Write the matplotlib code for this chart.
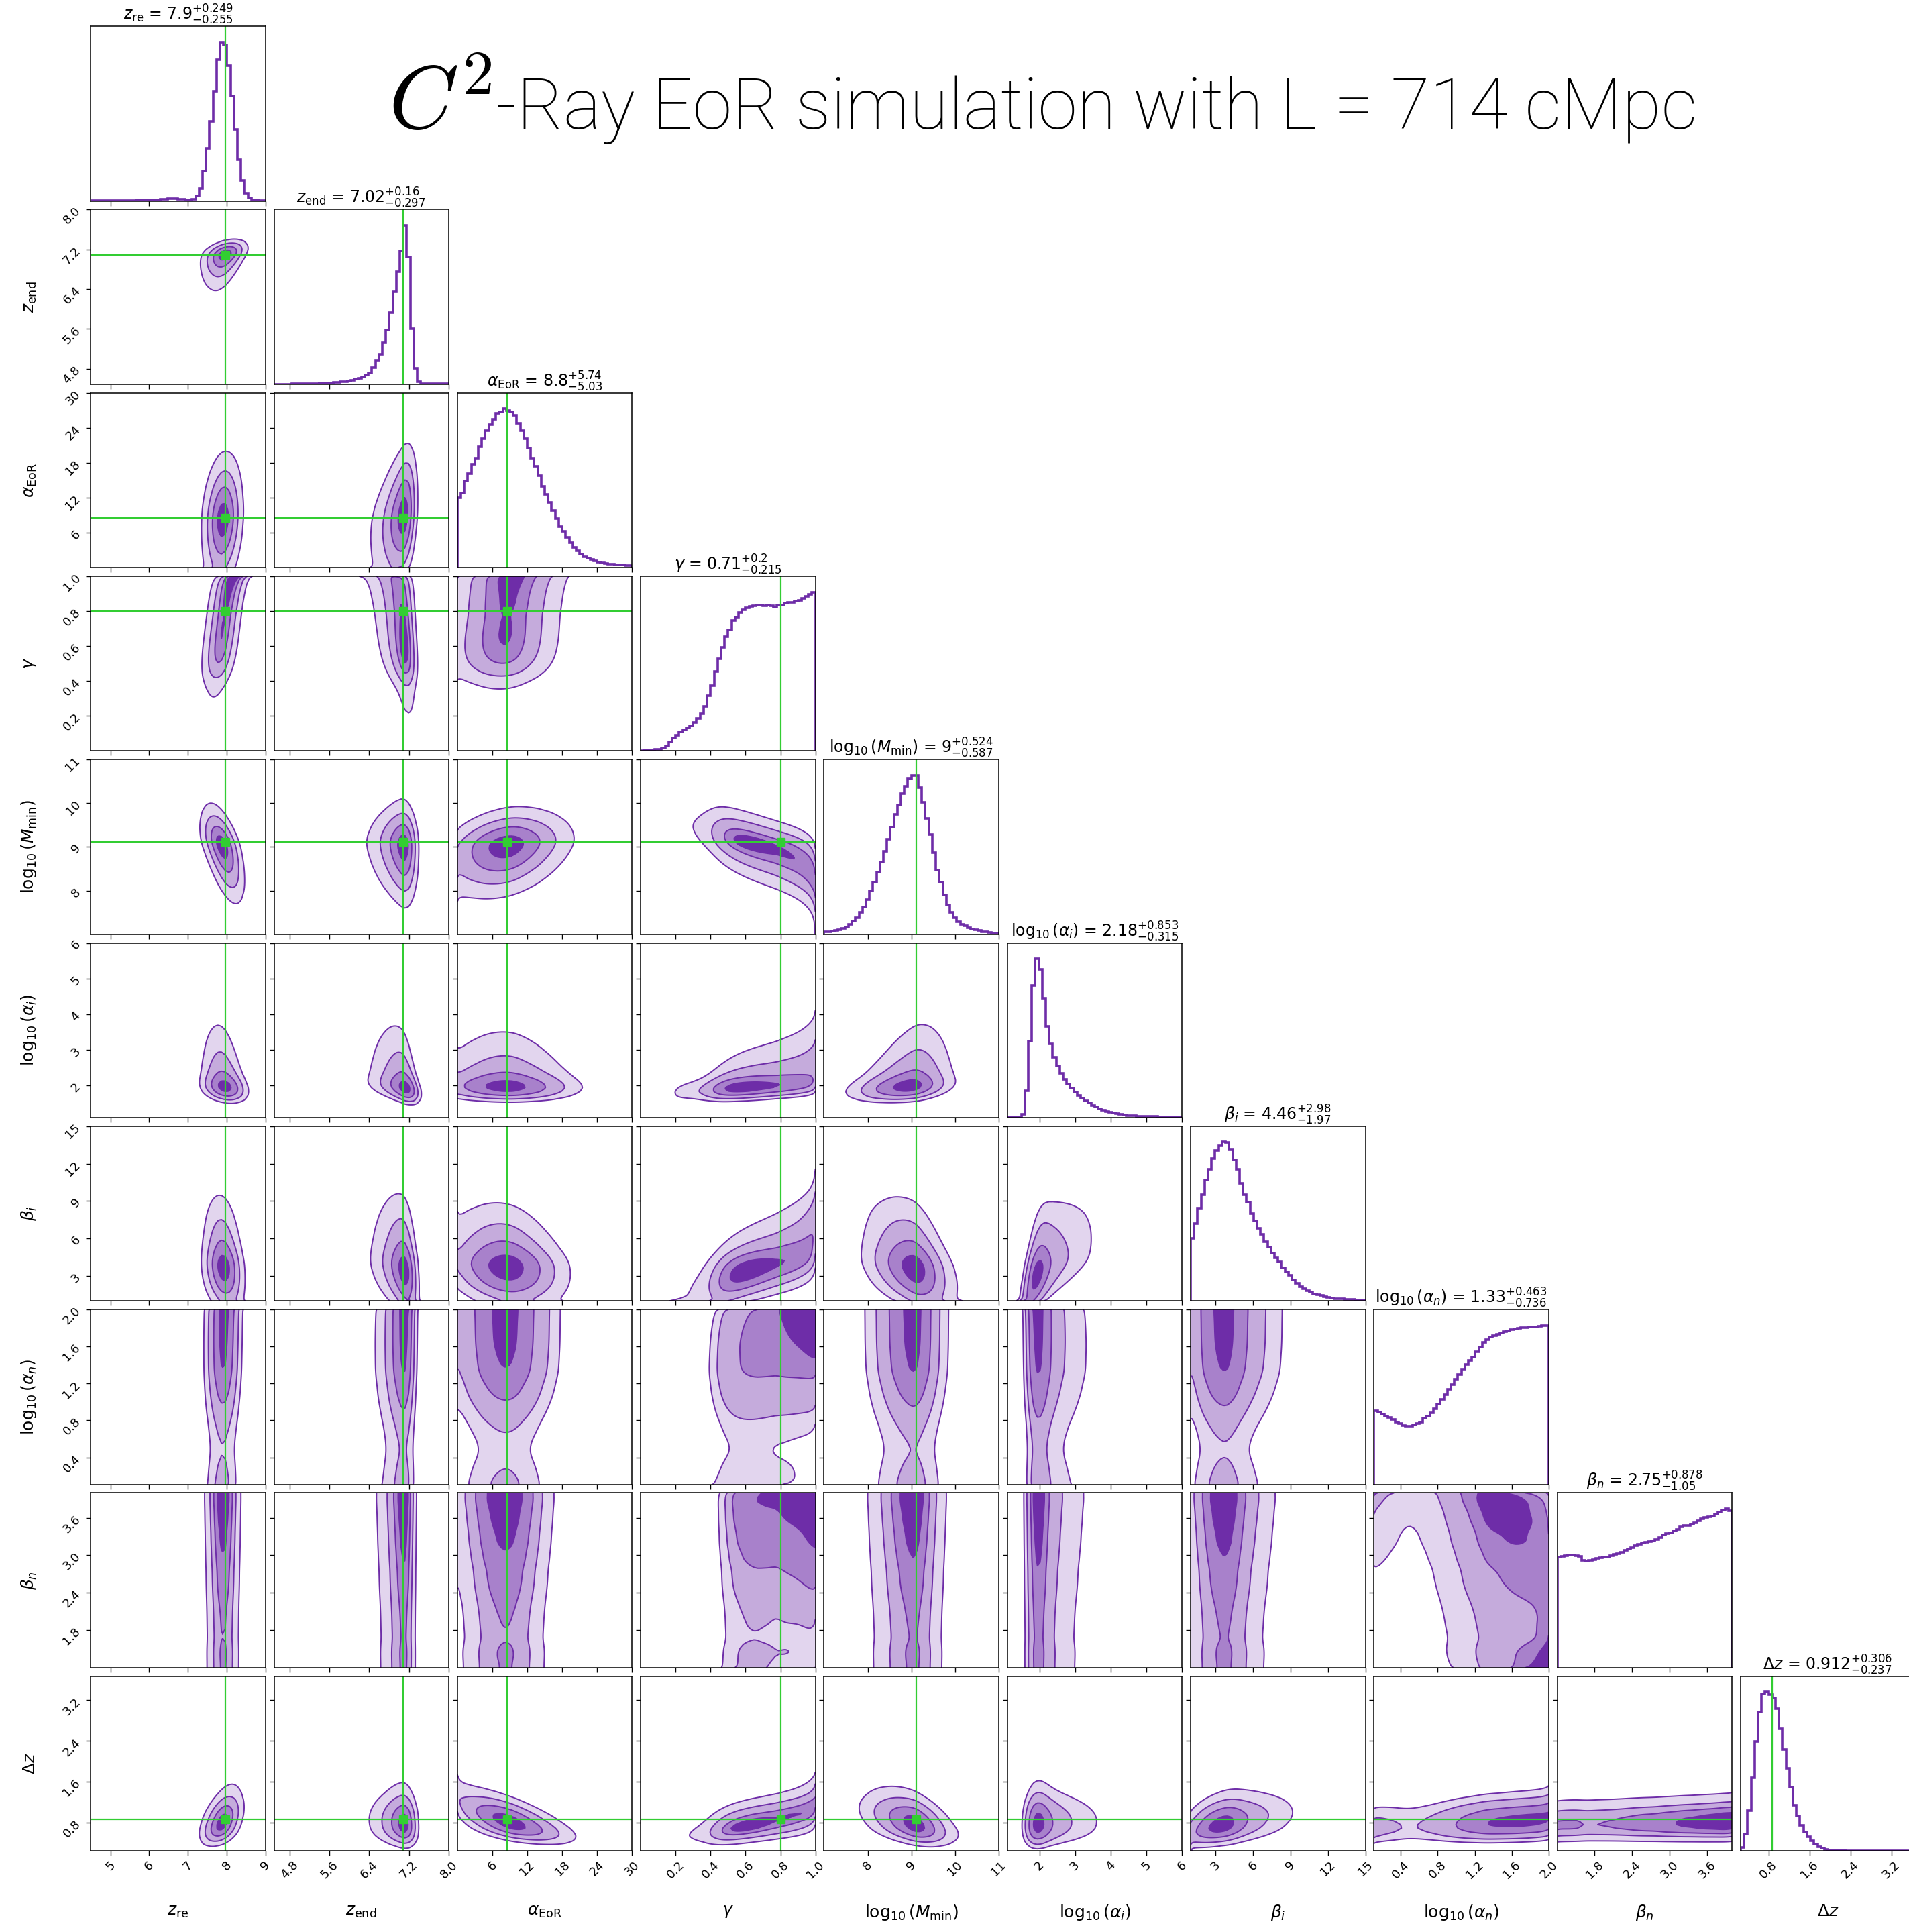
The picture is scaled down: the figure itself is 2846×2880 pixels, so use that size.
import numpy as np
import matplotlib
matplotlib.use("Agg")
import matplotlib.pyplot as plt
from matplotlib.colors import to_rgb
from statistics import NormalDist

# ------------------------------------------------------------------ data
labels = [r"$z_{\rm re}$", r"$z_{\rm end}$", r"$\alpha_{\rm EoR}$", r"$\gamma$",
          r"$\log_{10}(M_{\rm min})$", r"$\log_{10}(\alpha_i)$", r"$\beta_i$",
          r"$\log_{10}(\alpha_n)$", r"$\beta_n$", r"$\Delta z$"]

ranges = [(4.49, 9.0), (4.49, 8.0), (0.0, 30.0), (0.0, 1.0), (7.0, 11.0),
          (1.1, 6.0), (1.0, 15.0), (0.11, 2.0), (1.2, 4.0), (0.25, 3.67)]

tick_values = [[5, 6, 7, 8, 9], [4.8, 5.6, 6.4, 7.2, 8.0], [6, 12, 18, 24, 30],
               [0.2, 0.4, 0.6, 0.8, 1.0], [8, 9, 10, 11], [2, 3, 4, 5, 6],
               [3, 6, 9, 12, 15], [0.4, 0.8, 1.2, 1.6, 2.0], [1.8, 2.4, 3.0, 3.6],
               [0.8, 1.6, 2.4, 3.2]]
tick_text = [["5", "6", "7", "8", "9"], ["4.8", "5.6", "6.4", "7.2", "8.0"],
             ["6", "12", "18", "24", "30"], ["0.2", "0.4", "0.6", "0.8", "1.0"],
             ["8", "9", "10", "11"], ["2", "3", "4", "5", "6"],
             ["3", "6", "9", "12", "15"], ["0.4", "0.8", "1.2", "1.6", "2.0"],
             ["1.8", "2.4", "3.0", "3.6"], ["0.8", "1.6", "2.4", "3.2"]]

medians = ["7.9", "7.02", "8.8", "0.71", "9", "2.18", "4.46", "1.33", "2.75", "0.912"]
err_plus = ["0.249", "0.16", "5.74", "0.2", "0.524", "0.853", "2.98", "0.463", "0.878", "0.306"]
err_minus = ["0.255", "0.297", "5.03", "0.215", "0.587", "0.315", "1.97", "0.736", "1.05", "0.237"]

truths = [7.97, 7.09, 8.5, 0.8, 9.11, None, None, None, None, 0.87]

h_zre = [0.004, 0.004, 0.004, 0.004, 0.004, 0.004, 0.004, 0.004, 0.004, 0.004,
         0.004, 0.004, 0.004, 0.005, 0.005, 0.005, 0.006, 0.006, 0.007, 0.008,
         0.009, 0.011, 0.013, 0.014, 0.014, 0.012, 0.009, 0.008, 0.008, 0.012,
         0.03, 0.08, 0.19, 0.33, 0.50, 0.69, 0.89, 1.00, 0.98, 0.85,
         0.66, 0.45, 0.26, 0.13, 0.05, 0.02, 0.008, 0.005, 0.003, 0.003]
h_zend = [0.001, 0.001, 0.001, 0.001, 0.001, 0.0015, 0.002, 0.002, 0.0025, 0.003,
          0.0035, 0.004, 0.005, 0.006, 0.007, 0.008, 0.009, 0.011, 0.013, 0.015,
          0.018, 0.021, 0.026, 0.031, 0.037, 0.045, 0.057, 0.073, 0.105, 0.15,
          0.19, 0.26, 0.34, 0.45, 0.58, 0.71, 0.84, 1.00, 0.80, 0.35,
          0.10, 0.016, 0.005, 0.002, 0.002, 0.002, 0.002, 0.002, 0.002, 0.002]
h_aeor = [0.44, 0.47, 0.545, 0.59, 0.65, 0.69, 0.76, 0.81, 0.86, 0.90,
          0.935, 0.97, 0.98, 1.0, 0.99, 0.98, 0.96, 0.91, 0.86, 0.81,
          0.75, 0.69, 0.64, 0.58, 0.51, 0.46, 0.41, 0.36, 0.31, 0.26,
          0.23, 0.19, 0.156, 0.128, 0.106, 0.086, 0.07, 0.059, 0.05, 0.042,
          0.036, 0.031, 0.026, 0.023, 0.02, 0.019, 0.017, 0.016, 0.014, 0.012]
h_gamma = [0.003, 0.004, 0.005, 0.007, 0.009, 0.012, 0.018, 0.03, 0.055, 0.08,
           0.10, 0.118, 0.133, 0.147, 0.16, 0.18, 0.205, 0.235, 0.28, 0.35,
           0.41, 0.50, 0.58, 0.65, 0.72, 0.76, 0.82, 0.84, 0.87, 0.89,
           0.90, 0.91, 0.915, 0.92, 0.917, 0.912, 0.92, 0.912, 0.905, 0.917,
           0.92, 0.93, 0.933, 0.936, 0.944, 0.948, 0.96, 0.972, 0.986, 1.0]
h_mmin = [0.014, 0.016, 0.019, 0.022, 0.028, 0.036, 0.047, 0.063, 0.083, 0.104,
          0.138, 0.17, 0.217, 0.272, 0.33, 0.39, 0.453, 0.524, 0.597, 0.676,
          0.755, 0.814, 0.885, 0.932, 0.98, 1.0, 1.0, 0.925, 0.83, 0.728,
          0.626, 0.516, 0.406, 0.327, 0.248, 0.186, 0.138, 0.104, 0.079, 0.063,
          0.052, 0.041, 0.033, 0.027, 0.022, 0.017, 0.014, 0.011, 0.009, 0.007]
h_ai = [0.004, 0.004, 0.005, 0.006, 0.02, 0.17, 0.48, 0.83, 1.0, 0.935,
        0.75, 0.575, 0.465, 0.38, 0.325, 0.28, 0.24, 0.21, 0.185, 0.16,
        0.14, 0.122, 0.107, 0.091, 0.078, 0.067, 0.056, 0.047, 0.039, 0.033,
        0.028, 0.024, 0.02, 0.017, 0.014, 0.012, 0.011, 0.010, 0.009, 0.008,
        0.008, 0.007, 0.007, 0.006, 0.006, 0.005, 0.005, 0.005, 0.004, 0.004]
h_bi = [0.395, 0.486, 0.583, 0.67, 0.76, 0.83, 0.896, 0.946, 0.975, 1.0,
        0.998, 0.95, 0.89, 0.83, 0.74, 0.67, 0.62, 0.55, 0.505, 0.458,
        0.418, 0.371, 0.34, 0.30, 0.27, 0.246, 0.207, 0.183, 0.16, 0.133,
        0.113, 0.092, 0.077, 0.066, 0.055, 0.045, 0.039, 0.033, 0.028, 0.024,
        0.019, 0.016, 0.014, 0.013, 0.011, 0.009, 0.008, 0.006, 0.006, 0.005]
h_an = [0.464, 0.456, 0.44, 0.43, 0.42, 0.41, 0.393, 0.382, 0.37, 0.366,
        0.366, 0.373, 0.382, 0.393, 0.417, 0.43, 0.451, 0.476, 0.503, 0.535,
        0.566, 0.597, 0.629, 0.66, 0.692, 0.723, 0.755, 0.778, 0.802, 0.833,
        0.865, 0.892, 0.912, 0.928, 0.936, 0.943, 0.951, 0.959, 0.967, 0.975,
        0.98, 0.983, 0.986, 0.987, 0.99, 0.99, 0.992, 0.994, 0.998, 1.0]
h_bn = [0.698, 0.70, 0.705, 0.71, 0.708, 0.704, 0.70, 0.677, 0.673, 0.677,
        0.681, 0.687, 0.691, 0.695, 0.698, 0.705, 0.712, 0.719, 0.726, 0.738,
        0.748, 0.757, 0.769, 0.776, 0.783, 0.789, 0.793, 0.797, 0.804, 0.818,
        0.836, 0.842, 0.849, 0.86, 0.87, 0.888, 0.893, 0.896, 0.903, 0.913,
        0.924, 0.936, 0.946, 0.95, 0.956, 0.967, 0.98, 0.994, 1.0, 0.988]
h_dz = [0.02, 0.106, 0.254, 0.46, 0.69, 0.875, 0.987, 1.0, 0.985, 0.965,
        0.895, 0.77, 0.64, 0.52, 0.40, 0.29, 0.22, 0.16, 0.12, 0.09,
        0.063, 0.042, 0.028, 0.018, 0.011, 0.007, 0.005, 0.004, 0.003, 0.003,
        0.002, 0.002, 0.002, 0.002, 0.002, 0.002, 0.002, 0.002, 0.002, 0.002,
        0.002, 0.002, 0.002, 0.002, 0.002, 0.002, 0.002, 0.002, 0.002, 0.002]
hists = [h_zre, h_zend, h_aeor, h_gamma, h_mmin, h_ai, h_bi, h_an, h_bn, h_dz]

corr = {
    (1, 0): 0.45,
    (2, 0): 0.15, (2, 1): 0.30,
    (3, 0): 0.50, (3, 1): -0.35, (3, 2): 0.10,
    (4, 0): -0.60, (4, 1): -0.10, (4, 2): 0.25, (4, 3): -0.60,
    (5, 0): -0.30, (5, 1): -0.45, (5, 2): -0.05, (5, 3): 0.40, (5, 4): 0.35,
    (6, 0): -0.20, (6, 1): -0.30, (6, 2): -0.15, (6, 3): 0.50, (6, 4): -0.35, (6, 5): 0.60,
    (7, 0): 0.05, (7, 1): 0.05, (7, 2): 0.0, (7, 3): 0.15, (7, 4): 0.0, (7, 5): -0.05, (7, 6): 0.0,
    (8, 0): 0.0, (8, 1): 0.0, (8, 2): 0.0, (8, 3): 0.05, (8, 4): 0.0, (8, 5): 0.0, (8, 6): 0.0, (8, 7): -0.10,
    (9, 0): 0.45, (9, 1): -0.10, (9, 2): -0.60, (9, 3): 0.50, (9, 4): -0.45, (9, 5): 0.05,
    (9, 6): 0.35, (9, 7): 0.15, (9, 8): 0.05,
}

mass_levels = [0.118, 0.393, 0.675, 0.865]

# ------------------------------------------------------------------ style
PURPLE = "#6E2DA8"
GREEN = "#32CD32"
W, H = 2846, 2880
LEFT, TOP, STEP, SIZE = 135.2, 39.0, 273.3, 260.5
TICK_FS, TITLE_FS, LABEL_FS = 13, 17, 18
rgb = np.array(to_rgb(PURPLE))
fill_colors = [tuple(a * rgb + (1 - a)) for a in (0.2, 0.4, 0.6, 1.0)]

plt.rcParams["font.family"] = ["DejaVu Sans"]
n = len(labels)
nd = NormalDist()
NG = 140


def marginal(k):
    lo, hi = ranges[k]
    h = np.asarray(hists[k], float)
    edges = np.linspace(lo, hi, len(h) + 1)
    cen = 0.5 * (edges[1:] + edges[:-1])
    kern = np.array([1, 4, 6, 4, 1.0]) / 16
    hs = np.convolve(np.pad(h, 2, mode="edge"), kern, mode="valid")
    x = np.linspace(lo, hi, NG)
    p = np.interp(x, cen, hs)
    p = np.maximum(p, 1e-4 * p.max())
    c = np.cumsum(p)
    c = (c - 0.5 * p) / c[-1]
    c = np.clip(c, 1e-6, 1 - 1e-6)
    z = np.array([nd.inv_cdf(float(v)) for v in c])
    return x, p, z


margs = [marginal(k) for k in range(n)]

fig = plt.figure(figsize=(W / 100, H / 100), dpi=100)

for i in range(n):
    for j in range(i + 1):
        x0 = (LEFT + j * STEP) / W
        y0 = 1 - (TOP + i * STEP + SIZE) / H
        ax = fig.add_axes([x0, y0, SIZE / W, SIZE / H])
        for sp in ax.spines.values():
            sp.set_linewidth(1.1)
        ax.tick_params(labelsize=TICK_FS, length=5, width=1.0)
        lo, hi = ranges[j]
        if i == j:
            h = np.asarray(hists[i], float)
            edges = np.linspace(lo, hi, len(h) + 1)
            cen = 0.5 * (edges[1:] + edges[:-1])
            ax.hist(cen, bins=edges, weights=h, histtype="step", color=PURPLE, lw=2.6)
            ax.set_ylim(0, 1.1 * h.max())
            ax.set_yticks([])
            title = (f"{labels[i]} = ${medians[i]}" +
                     "_{-" + err_minus[i] + "}^{+" + err_plus[i] + "}$")
            ax.set_title(title, fontsize=TITLE_FS)
            if truths[i] is not None:
                ax.axvline(truths[i], color=GREEN, lw=1.6)
        else:
            xg, pj, zj = margs[j]
            yg, pi, zi = margs[i]
            r = corr.get((i, j), 0.0)
            Z1, Z2 = np.meshgrid(zj, zi)
            cop = np.exp(-(r * r * (Z1 ** 2 + Z2 ** 2) - 2 * r * Z1 * Z2) /
                         (2 * (1 - r * r))) / np.sqrt(1 - r * r)
            dens = pi[:, None] * pj[None, :] * cop
            flat = np.sort(dens.ravel())[::-1]
            cum = np.cumsum(flat)
            cum /= cum[-1]
            V = sorted(flat[np.searchsorted(cum, m)] for m in mass_levels)
            X, Y = np.meshgrid(xg, yg)
            ax.contourf(X, Y, dens, levels=list(V) + [dens.max() * 1.0001],
                        colors=fill_colors)
            ax.contour(X, Y, dens, levels=V, colors=PURPLE, linewidths=1.4)
            if truths[j] is not None:
                ax.axvline(truths[j], color=GREEN, lw=1.6)
            if truths[i] is not None:
                ax.axhline(truths[i], color=GREEN, lw=1.6)
            if truths[i] is not None and truths[j] is not None:
                ax.plot(truths[j], truths[i], "s", color=GREEN, ms=8.5)
            ax.set_ylim(*ranges[i])
            ax.set_yticks(tick_values[i])
            if j == 0:
                ax.set_yticklabels(tick_text[i], rotation=45)
                ax.set_ylabel(labels[i], fontsize=LABEL_FS)
                ax.yaxis.set_label_coords(-0.3, 0.5)
            else:
                ax.set_yticklabels([])
        ax.set_xlim(lo, hi)
        ax.set_xticks(tick_values[j])
        if i == n - 1:
            ax.set_xticklabels(tick_text[j], rotation=45)
            ax.set_xlabel(labels[j], fontsize=LABEL_FS)
            ax.xaxis.set_label_coords(0.5, -0.3)
        else:
            ax.set_xticklabels([])

# ------------------------------------------------------------------ big title
fig.canvas.draw()
renderer = fig.canvas.get_renderer()
base_y = 1 - 192 / H
t1 = fig.text(579 / W, base_y, r"$C^2$", fontsize=96, math_fontfamily="cm",
              ha="left", va="baseline", color="black")
x_start = t1.get_window_extent(renderer).x1 + 5
t2 = fig.text(x_start / W, base_y, "-Ray EoR simulation with L = 714 cMpc",
              fontsize=80, family=["Roboto", "DejaVu Sans"], fontweight="light",
              ha="left", va="baseline", color="black")
w2 = t2.get_window_extent(renderer).width
t2.set_fontsize(80 * (2532 - x_start) / w2)

fig.savefig("out.png", dpi=100)
